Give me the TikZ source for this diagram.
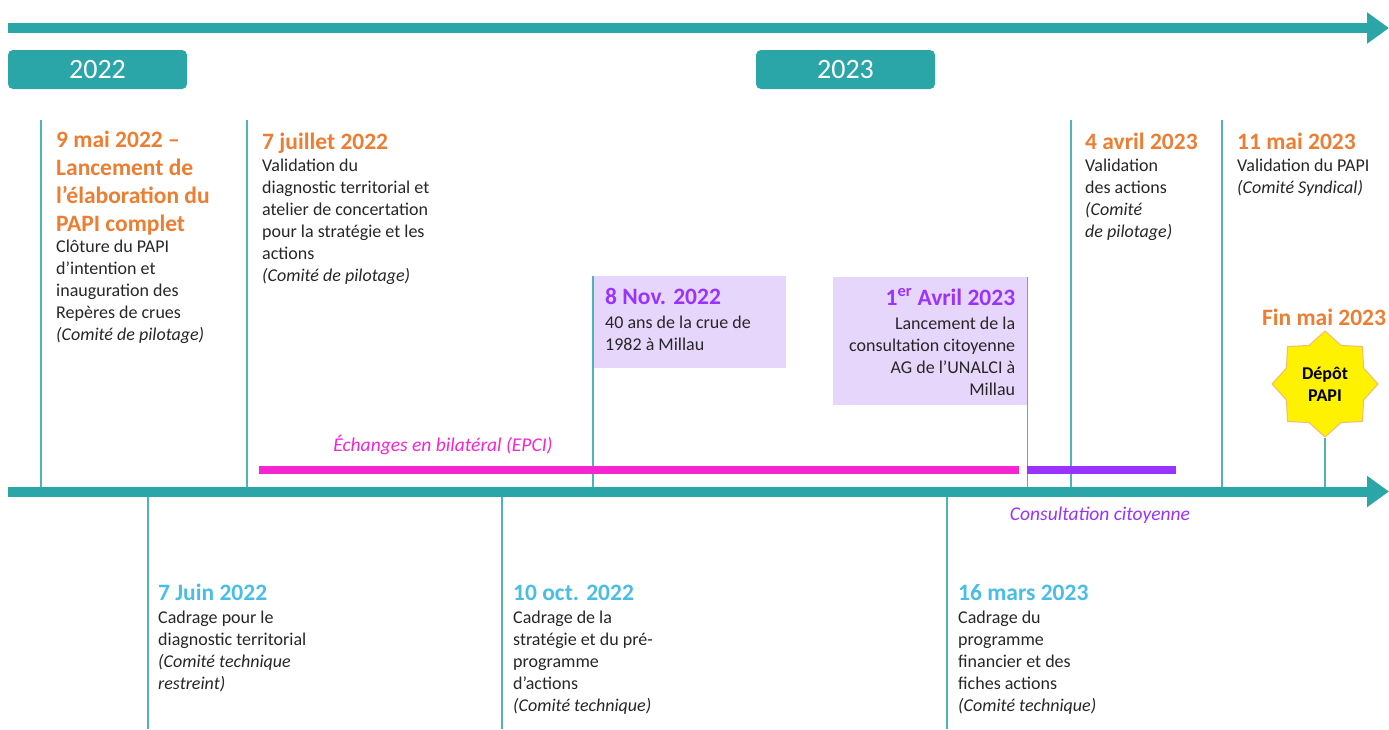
\documentclass[tikz,border=0pt]{standalone}
\usepackage{fontspec}
\setmainfont{Carlito}
\usetikzlibrary{shapes,positioning,arrows.meta}
\definecolor{axisteal}{RGB}{43,166,168}
\definecolor{stemteal}{RGB}{78,180,183}
\definecolor{dateorange}{RGB}{237,125,49}
\definecolor{dateblue}{RGB}{72,190,230}
\definecolor{lavbox}{RGB}{231,214,251}
\definecolor{violetA}{RGB}{153,51,255}
\definecolor{pinkbar}{RGB}{245,38,208}
\definecolor{txtgray}{RGB}{38,38,38}
\definecolor{starorange}{RGB}{250,185,110}
\newcommand\ttlfont{\fontsize{23.5}{28}\selectfont\bfseries}
\newcommand\txtfont{\fontsize{18}{22}\selectfont}

\begin{document}
\begin{tikzpicture}
  [x=1pt,y=-1pt,
   timeline/.style={line width=10pt,axisteal,-{Triangle[length=22pt,width=30pt]}},
   stem/.style={line width=1.2pt,stemteal},
   span/.style={line width=8pt},
   yearN/.style={fill=axisteal,rounded corners=5pt,text=white,font={\fontsize{28}{34}\selectfont},
                 minimum width=179pt,minimum height=39pt,inner sep=0pt},
   dateN/.style={font=\ttlfont,align=left,inner sep=0pt,anchor=north west,
                 execute at begin node=\strut,execute at end node=\strut},
   descN/.style={font=\txtfont,text=txtgray,align=left,inner sep=0pt,
                 execute at begin node=\strut,execute at end node=\strut},
   boxN/.style={fill=lavbox,inner sep=0pt,anchor=north west},
   spanlabel/.style={font={\fontsize{19.5}{24}\selectfont\itshape},inner sep=0pt},
  ]
 \useasboundingbox (0,0) rectangle (1389,729);

 \coordinate (top0) at (8,28);
 \coordinate (top1) at (1389,28);
 \coordinate (bot0) at (8,491.5);
 \coordinate (bot1) at (1389,491.5);

 \node[yearN] (y22) at (97.5,69.5) {2022};
 \node[yearN] (y23) at (845.5,69.5) {2023};

 % au-dessus de l'axe
 \node[dateN,text=dateorange] (t9mai) at (56,131) {9 mai 2022 –\\Lancement de\\l’élaboration du\\PAPI complet};
 \node[descN,below=0pt of t9mai.south west,anchor=north west] (d9mai)
   {Clôture du PAPI\\d’intention et\\inauguration des\\Repères de crues\\\textit{(Comité de pilotage)}};

 \node[dateN,text=dateorange] (tjuil) at (262,130) {7 juillet 2022};
 \node[descN,below=0pt of tjuil.south west,anchor=north west] (djuil)
   {Validation du\\diagnostic territorial et\\atelier de concertation\\pour la stratégie et les\\actions\\\textit{(Comité de pilotage)}};

 \node[dateN,text=dateorange] (t4avr) at (1085,130) {4 avril 2023};
 \node[descN,below=0pt of t4avr.south west,anchor=north west] (d4avr)
   {Validation\\des actions\\\textit{(Comité}\\\textit{de pilotage)}};

 \node[dateN,text=dateorange] (tmai) at (1237,130) {11 mai 2023};
 \node[descN,below=0pt of tmai.south west,anchor=north west] (dmai)
   {Validation du PAPI\\\textit{(Comité Syndical)}};

 \node[boxN,minimum width=193pt,minimum height=92pt] (bnov) at (593,276) {};
 \node[dateN,text=violetA] (tnov) at ([xshift=12pt,yshift=-9pt]bnov.north west) {8 Nov. 2022};
 \node[descN,below=2pt of tnov.south west,anchor=north west] (dnov) {40 ans de la crue de\\1982 à Millau};

 \node[boxN,minimum width=194pt,minimum height=128pt] (bavr) at (833,277) {};
 \node[dateN,text=violetA,align=right,anchor=north east] (t1avr) at ([xshift=-12pt,yshift=-9pt]bavr.north east)
   {1\textsuperscript{er} Avril 2023};
 \node[descN,align=right,below=2pt of t1avr.south east,anchor=north east] (d1avr)
   {Lancement de la\\consultation citoyenne\\AG de l’UNALCI à\\Millau};

 \node[font=\ttlfont,text=dateorange,inner sep=0pt] (tfin) at (1324,317) {Fin mai 2023};
 \node[star,star points=8,star point ratio=1.27,minimum size=106pt,inner sep=0pt,
       fill=yellow,draw=starorange,line width=1pt,align=center,
       font={\fontsize{18}{22}\selectfont\bfseries}] (depot) at (1325,384) {Dépôt\\PAPI};

 % au-dessous de l'axe
 \node[dateN,text=dateblue] (tjuin) at (158,581) {7 Juin 2022};
 \node[descN,below=1pt of tjuin.south west,anchor=north west] (djuin)
   {Cadrage pour le\\diagnostic territorial\\\textit{(Comité technique}\\\textit{restreint)}};

 \node[dateN,text=dateblue] (toct) at (513,581) {10 oct. 2022};
 \node[descN,below=1pt of toct.south west,anchor=north west] (doct)
   {Cadrage de la\\stratégie et du pré-\\programme\\d’actions\\\textit{(Comité technique)}};

 \node[dateN,text=dateblue] (tmars) at (958,581) {16 mars 2023};
 \node[descN,below=1pt of tmars.south west,anchor=north west] (dmars)
   {Cadrage du\\programme\\financier et des\\fiches actions\\\textit{(Comité technique)}};

 \node[spanlabel,text=pinkbar] (lech) at (443,445) {Échanges en bilatéral (EPCI)};
 \node[spanlabel,text=violetA] (lcons) at (1100,515) {Consultation citoyenne};

 \foreach \x in {41,247,1071,1222} \draw[stem] (\x,120) -- (\x,491.5);
 \foreach \x in {148,502,947} \draw[stem] (\x,491.5) -- (\x,729);
 \draw[stem] (bnov.north west) -- (bnov.north west |- bot0);
 \draw[stem] (bavr.north east) -- (bavr.north east |- bot0);
 \draw[stem] (depot.south) -- (depot.south |- bot0);

 \draw[timeline] (top0) -- (top1);
 \draw[timeline] (bot0) -- (bot1);

 \coordinate (e0) at (259,470);
 \coordinate (e1) at (1019,470);
 \coordinate (c0) at (1027,470);
 \coordinate (c1) at (1176,470);
 \draw[span,pinkbar] (e0) -- (e1);
 \draw[span,violetA] (c0) -- (c1);

\end{tikzpicture}
\end{document}
